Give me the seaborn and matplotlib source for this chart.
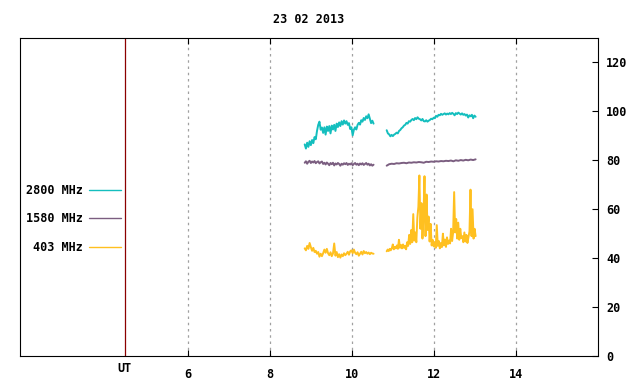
import numpy as np
import pandas as pd
import matplotlib
matplotlib.use("Agg")
import matplotlib.pyplot as plt
import matplotlib.transforms as mtransforms
import seaborn as sns

freqs = ["2800 MHz", "1580 MHz", "403 MHz"]
colors = ["#14bebe", "#7b5e80", "#ffc020"]

# start / end UT (hours) of the two recording blocks
seg_spans = [(8.85, 10.53), (10.85, 13.02)]
ut_x = 4.46
x_ticks = [6, 8, 10, 12, 14]
y_ticks = [0, 20, 40, 60, 80, 100, 120]

f2800_a = [86.5, 84.8, 87.2, 85.5, 87.8, 86.2, 88.3, 87.0, 89.5, 88.6,
           92.0, 94.5, 95.8, 92.5, 93.4, 91.2, 93.5, 90.5, 93.8, 92.0,
           94.0, 91.0, 94.2, 92.6, 94.5, 92.0, 95.0, 93.6, 95.5, 94.0,
           96.0, 94.6, 96.3, 95.0, 96.0, 94.5, 95.2, 92.8, 93.5, 90.2,
           92.5, 93.5, 92.6, 94.5, 95.3, 94.6, 96.4, 95.8, 97.3, 96.5,
           98.0, 97.2, 98.8, 97.0, 95.2, 96.2, 95.0]
f2800_b = [92.3, 91.0, 90.6, 89.8, 90.4, 89.9, 90.5, 90.8, 91.3, 91.0,
           92.0, 92.4, 93.1, 93.5, 94.2, 94.5, 95.3, 95.0, 96.0, 95.8,
           96.5, 96.9, 96.4, 97.3, 96.8, 97.6, 97.0, 96.8, 96.3, 96.9,
           96.0, 95.9, 96.4, 95.8, 96.2, 96.5, 97.0, 96.8, 97.4, 97.2,
           98.2, 97.8, 98.6, 98.4, 99.0, 98.6, 98.9, 99.2, 98.7, 99.1,
           98.8, 99.3, 98.9, 99.4, 99.0, 98.4, 99.3, 98.9, 99.5, 99.1,
           98.7, 99.2, 98.6, 98.9, 98.3, 98.7, 97.5, 98.4, 98.0, 98.6,
           97.2, 98.3, 97.8]

f1580_a = [79.0, 79.6, 78.6, 79.4, 79.8, 78.9, 79.5, 79.1, 79.7, 78.8,
           79.3, 79.6, 78.7, 79.2, 79.5, 78.5, 79.0, 78.3, 79.1, 78.6,
           78.0, 78.9, 78.4, 79.0, 77.9, 78.7, 78.3, 78.9, 78.5, 77.8,
           78.6, 78.2, 78.8, 78.4, 78.9, 78.1, 78.6, 78.3, 78.8, 78.0,
           78.5, 78.9, 78.2, 78.6, 78.0, 78.7, 78.3, 78.8, 78.1, 78.5,
           78.9, 78.2, 78.6, 77.9, 78.4, 77.8, 78.2]
f1580_b = [77.8, 78.4, 78.6, 78.5, 78.8, 78.7, 78.9, 79.0, 78.8, 79.1,
           79.0, 79.2, 79.1, 79.3, 79.2, 79.0, 79.4, 79.3, 79.5, 79.4,
           79.6, 79.5, 79.7, 79.6, 79.8, 79.7, 79.9, 79.6, 80.0, 79.8,
           80.1, 79.9, 80.2, 80.0, 80.3, 80.1, 80.4]

f403_a = [44.0, 43.2, 45.0, 43.8, 46.2, 44.5, 43.0, 44.2, 42.5, 43.0,
          41.8, 42.5, 40.6, 41.8, 40.8, 42.0, 43.5, 42.2, 43.8, 42.0,
          41.2, 42.4, 40.8, 41.9, 46.0, 41.0, 42.5, 40.4, 41.6, 40.2,
          41.5, 40.8, 42.0, 41.2, 41.8, 42.6, 41.4, 42.8, 43.2, 42.0,
          43.5, 42.2, 41.6, 42.4, 41.0, 41.8, 42.6, 41.5, 42.9, 42.0,
          42.5, 41.8, 42.3, 41.6, 42.2, 41.9, 41.8]
f403_b = [42.8, 43.5, 42.9, 43.8, 43.2, 44.0, 45.6, 43.6, 44.6, 44.0,
          45.2, 43.8, 47.5, 44.2, 45.4, 44.0, 45.6, 44.2, 45.0, 43.6,
          46.5, 45.0, 49.5, 45.8, 51.5, 46.5, 58.0, 47.2, 50.5, 46.5,
          56.5, 61.0, 73.8, 52.0, 62.5, 48.0, 57.0, 73.5, 49.0, 66.0,
          51.5, 57.0, 46.8, 54.0, 45.2, 47.5, 44.8, 46.5, 44.2, 53.5,
          45.0, 47.0, 44.0, 46.2, 44.5, 50.0, 45.2, 47.6, 44.6, 48.5,
          45.8, 47.2, 46.0, 52.0, 47.0, 50.5, 67.0, 50.5, 56.0, 48.0,
          54.5, 47.5, 52.0, 48.2, 49.0, 46.5, 50.5, 46.8, 49.5, 46.2,
          48.5, 51.0, 68.0, 49.0, 60.0, 48.0, 52.0, 49.0]

series = {
    "2800 MHz": [f2800_a, f2800_b],
    "1580 MHz": [f1580_a, f1580_b],
    "403 MHz": [f403_a, f403_b],
}

parts = []
for name, segs in series.items():
    for k, (vals, (t0, t1)) in enumerate(zip(segs, seg_spans)):
        t = np.linspace(t0, t1, len(vals))
        parts.append(pd.DataFrame({"ut": t, "flux": vals, "freq": name, "seg": k}))
df = pd.concat(parts, ignore_index=True)

sns.set_style("white")
plt.rcParams["font.family"] = ["DejaVu Sans Mono"]
plt.rcParams["font.weight"] = "bold"
plt.rcParams["font.size"] = 8.5
plt.rcParams["text.color"] = "black"
plt.rcParams["xtick.color"] = "black"
plt.rcParams["ytick.color"] = "black"

fig, ax = plt.subplots(figsize=(6.4, 3.84), dpi=100)
fig.subplots_adjust(left=0.031, right=0.934, bottom=0.073, top=0.901)

sns.lineplot(data=df, x="ut", y="flux", hue="freq", hue_order=freqs,
             palette=colors, units="seg", estimator=None, lw=1.4, ax=ax)

leg = ax.get_legend()
handles = leg.legend_handles
labels = [t.get_text() for t in leg.get_texts()]
for h in handles:
    h.set_linewidth(1)
ax.legend(handles, labels, loc="center right", bbox_to_anchor=(0.175, 0.431),
          markerfirst=False, frameon=False, handlelength=2.7, handletextpad=0.5,
          labelspacing=1.3, borderpad=0, borderaxespad=0)

ax.set_xlim(1.9, 16)
ax.set_ylim(0, 130)
ax.set_xticks(x_ticks)
ax.set_yticks(y_ticks)
ax.yaxis.tick_right()
ax.tick_params(axis="x", direction="in", top=True, bottom=True, length=4,
               width=0.8, pad=9)
ax.tick_params(axis="y", direction="in", left=False, right=True,
               labelleft=False, labelright=True, length=4, width=0.8, pad=6)
for s in ax.spines.values():
    s.set_color("black")
    s.set_linewidth(0.8)
ax.set_axisbelow(True)
ax.grid(axis="x", color="#a0a0a0", linestyle=(0, (2, 3)), lw=0.9)
ax.grid(axis="y", visible=False)
ax.axvline(ut_x, color="#8b0000", lw=0.9)
trans = mtransforms.blended_transform_factory(ax.transData, ax.transAxes)
ax.text(ut_x, -0.038, "UT", transform=trans, ha="center", va="center")
ax.set_xlabel("")
ax.set_ylabel("")
ax.set_title("23 02 2013", pad=11, fontweight="bold", fontsize=8.5)

fig.savefig("out.png", dpi=100)
